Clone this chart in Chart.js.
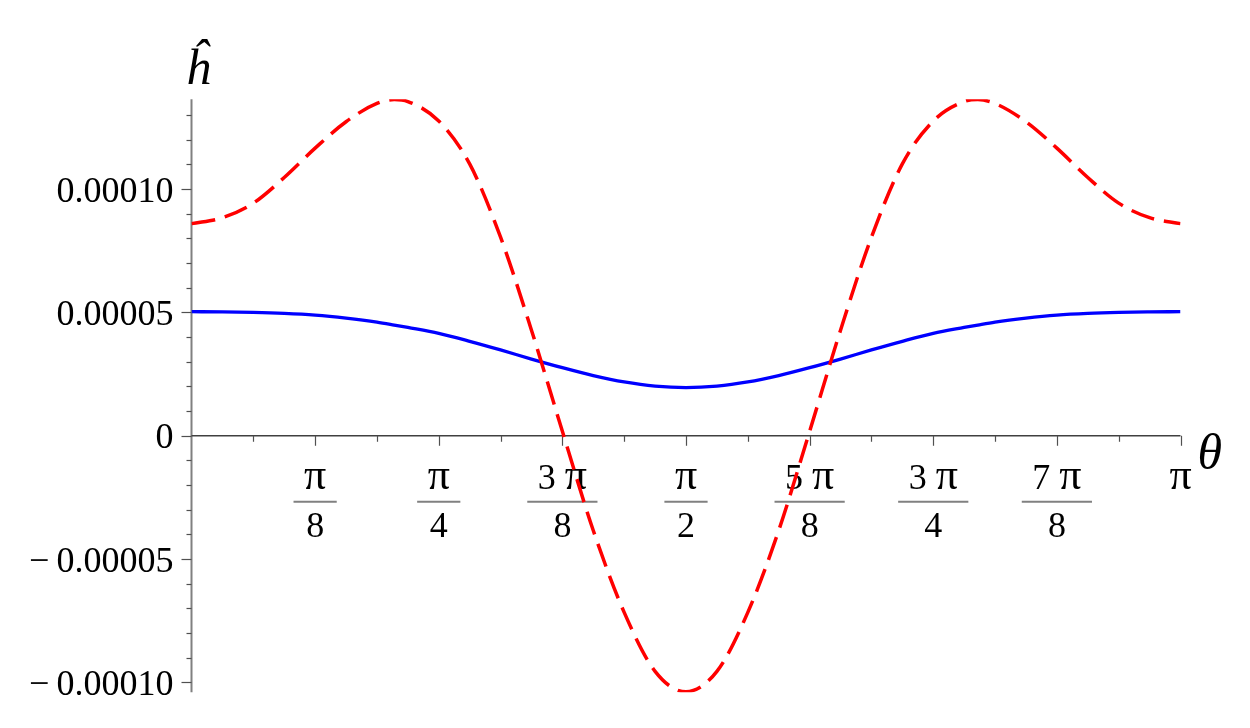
<!DOCTYPE html>
<html>
<head>
<meta charset="utf-8">
<script src="https://cdn.jsdelivr.net/npm/chart.js@4.4.0/dist/chart.umd.min.js"></script>
<style>
  html, body { margin: 0; padding: 0; background: #ffffff; }
  #wrap { width: 1250px; height: 728px; position: relative; }
</style>
</head>
<body>
<div id="wrap"><canvas id="c" width="1250" height="728"></canvas></div>
<script>
// ---- data (θ in multiples of π) ----
const thetaOverPi = [0, 0.03125, 0.0625, 0.09375, 0.125, 0.15625, 0.1875, 0.205, 0.21875, 0.25,
  0.28125, 0.3125, 0.34375, 0.375, 0.40625, 0.4375, 0.46875, 0.5, 0.53125, 0.5625,
  0.59375, 0.625, 0.65625, 0.6875, 0.71875, 0.75, 0.78125, 0.795, 0.8125, 0.84375,
  0.875, 0.90625, 0.9375, 0.96875, 1];

const redValues = [8.60e-5, 8.84e-5, 9.43e-5, 10.47e-5, 11.66e-5, 12.73e-5, 13.47e-5, 13.63e-5, 13.55e-5, 12.76e-5,
  11.02e-5, 8.05e-5, 4.28e-5, 0.18e-5, -3.84e-5, -7.16e-5, -9.55e-5, -10.38e-5, -9.55e-5, -7.16e-5,
  -3.84e-5, 0.18e-5, 4.28e-5, 8.05e-5, 11.02e-5, 12.76e-5, 13.55e-5, 13.63e-5, 13.47e-5, 12.73e-5,
  11.66e-5, 10.47e-5, 9.43e-5, 8.84e-5, 8.60e-5];

const blueValues = [5.03e-5, 5.02e-5, 5.00e-5, 4.96e-5, 4.89e-5, 4.77e-5, 4.61e-5, 4.49e-5, 4.39e-5, 4.15e-5,
  3.83e-5, 3.48e-5, 3.11e-5, 2.76e-5, 2.44e-5, 2.18e-5, 2.01e-5, 1.95e-5, 2.01e-5, 2.18e-5,
  2.44e-5, 2.76e-5, 3.11e-5, 3.48e-5, 3.83e-5, 4.15e-5, 4.39e-5, 4.49e-5, 4.61e-5, 4.77e-5,
  4.89e-5, 4.96e-5, 5.00e-5, 5.02e-5, 5.03e-5];

// ---- axes ----
const yMin = -0.000104, yMax = 0.0001364;
const yMajorTicks = [0.0001, 0.00005, 0, -0.00005, -0.0001];
const yTickLabels = ['0.00010', '0.00005', '0', '\u2212\u20090.00005', '\u2212\u20090.00010'];
const yMinorStep = 0.00001;

const xMajorTicksOverPi = [0.125, 0.25, 0.375, 0.5, 0.625, 0.75, 0.875, 1];
const xTickNumerators = ['\u03c0', '\u03c0', '3 \u03c0', '\u03c0', '5 \u03c0', '3 \u03c0', '7 \u03c0', '\u03c0'];
const xTickDenominators = ['8', '4', '8', '2', '8', '4', '8', ''];
const xMinorStepOverPi = 0.0625;

const xAxisTitle = '\u03b8';
const yAxisTitle = '\u0125';

const SERIF = '"Liberation Serif", "Times New Roman", serif';
const NUM_FONT = '36px ' + SERIF;
const PI_FONT = '44px ' + SERIF;

// draw a numerator like "3 π" with a larger π glyph, centred at cx
function drawNumerator(ctx, text, cx, baseline) {
  const parts = [];
  for (const ch of text) {
    parts.push({ ch, font: ch === '\u03c0' ? PI_FONT : NUM_FONT });
  }
  let total = 0;
  parts.forEach(p => { ctx.font = p.font; p.w = ctx.measureText(p.ch).width; total += p.w; });
  let x = cx - total / 2;
  ctx.textAlign = 'left';
  parts.forEach(p => { ctx.font = p.font; ctx.fillText(p.ch, x, baseline); x += p.w; });
  return total;
}

const maplePlugin = {
  id: 'mapleAxes',
  beforeDatasetsDraw(chart) {
    const ctx = chart.ctx;
    const xs = chart.scales.x, ys = chart.scales.y;
    const x0 = xs.getPixelForValue(0);
    const y0 = ys.getPixelForValue(0);
    const xEnd = xs.getPixelForValue(Math.PI);
    ctx.save();

    // y axis line
    ctx.strokeStyle = '#808080';
    ctx.lineWidth = 2;
    ctx.beginPath();
    ctx.moveTo(x0, ys.getPixelForValue(yMax));
    ctx.lineTo(x0, ys.getPixelForValue(yMin));
    ctx.stroke();

    // y ticks (minor + major)
    ctx.strokeStyle = '#505050';
    ctx.lineWidth = 1.2;
    for (let i = Math.ceil(yMin / yMinorStep - 1e-9); i * yMinorStep <= yMax + 1e-12; i++) {
      const v = i * yMinorStep;
      const py = Math.round(ys.getPixelForValue(v)) + 0.5;
      const major = (i % 5 === 0);
      ctx.beginPath();
      ctx.moveTo(x0 - (major ? 10 : 5), py);
      ctx.lineTo(x0, py);
      ctx.stroke();
    }

    // x axis line
    ctx.strokeStyle = '#404040';
    ctx.lineWidth = 1.5;
    ctx.beginPath();
    ctx.moveTo(x0, y0);
    ctx.lineTo(xEnd, y0);
    ctx.stroke();

    // x ticks
    ctx.strokeStyle = '#505050';
    ctx.lineWidth = 1.2;
    for (let k = 1; k * xMinorStepOverPi <= 1 + 1e-9; k++) {
      const px = Math.round(xs.getPixelForValue(k * xMinorStepOverPi * Math.PI)) + 0.5;
      const major = (k % 2 === 0);
      ctx.beginPath();
      ctx.moveTo(px, y0);
      ctx.lineTo(px, y0 + (major ? 10 : 6));
      ctx.stroke();
    }

    // y tick labels
    ctx.fillStyle = '#000000';
    ctx.font = '36px ' + SERIF;
    ctx.textAlign = 'right';
    ctx.textBaseline = 'alphabetic';
    yMajorTicks.forEach((v, i) => {
      const py = ys.getPixelForValue(v);
      ctx.fillText(yTickLabels[i], x0 - 18, py + 12.5);
    });

    // x tick labels (fractions)
    xMajorTicksOverPi.forEach((t, i) => {
      const px = xs.getPixelForValue(t * Math.PI);
      ctx.fillStyle = '#000000';
      const num = xTickNumerators[i], den = xTickDenominators[i];
      const numW = drawNumerator(ctx, num, px, y0 + 53);
      if (den) {
        ctx.font = NUM_FONT;
        const w = Math.max(numW, ctx.measureText(den).width) + 21;
        ctx.strokeStyle = '#808080';
        ctx.lineWidth = 2;
        ctx.beginPath();
        ctx.moveTo(px - w / 2, y0 + 66);
        ctx.lineTo(px + w / 2, y0 + 66);
        ctx.stroke();
        ctx.textAlign = 'center';
        ctx.fillText(den, px, y0 + 101.5);
      }
    });

    // axis titles
    ctx.font = 'italic 50px ' + SERIF;
    ctx.textAlign = 'left';
    ctx.fillText(xAxisTitle, xEnd + 17, y0 + 33);
    ctx.fillText(yAxisTitle, x0 - 6, 84);

    ctx.restore();
  }
};

const ctx = document.getElementById('c').getContext('2d');
new Chart(ctx, {
  type: 'line',
  data: {
    datasets: [
      {
        label: 'red',
        data: thetaOverPi.map((t, i) => ({ x: t * Math.PI, y: redValues[i] })),
        borderColor: '#ff0000',
        borderWidth: 3.5,
        borderDash: [24, 10],
        pointRadius: 0,
        cubicInterpolationMode: 'monotone',
        fill: false
      },
      {
        label: 'blue',
        data: thetaOverPi.map((t, i) => ({ x: t * Math.PI, y: blueValues[i] })),
        borderColor: '#0000ff',
        borderWidth: 3.3,
        pointRadius: 0,
        cubicInterpolationMode: 'monotone',
        fill: false
      }
    ]
  },
  options: {
    responsive: false,
    animation: false,
    devicePixelRatio: 1,
    layout: { padding: { left: 191.5, right: 69.5, top: 99.3, bottom: 35.7 } },
    scales: {
      x: { type: 'linear', min: 0, max: Math.PI, display: false },
      y: { type: 'linear', min: yMin, max: yMax, display: false }
    },
    plugins: { legend: { display: false }, tooltip: { enabled: false } }
  },
  plugins: [maplePlugin]
});
</script>
</body>
</html>
